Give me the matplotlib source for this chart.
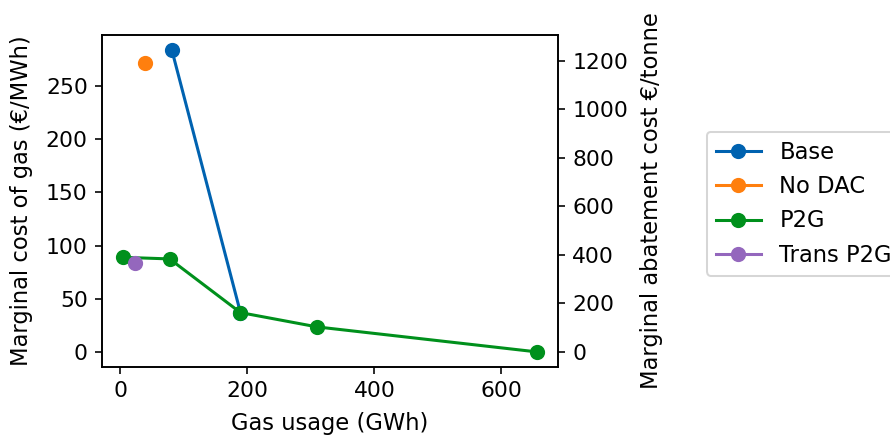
import matplotlib
matplotlib.use("Agg")
import matplotlib.pyplot as plt

# Data (Gas usage GWh, marginal cost of gas €/MWh)
base_x = [81, 189]
base_y = [284, 37]
nodac_x = [38]
nodac_y = [271.5]
p2g_x = [4, 77.5, 189, 310, 656]
p2g_y = [89, 87.5, 37, 23.5, 0]
trans_x = [22.5]
trans_y = [84]

# conversion of €/MWh gas to €/tonne abatement (right axis)
ratio = 4.377

labels = ["Base", "No DAC", "P2G", "Trans P2G"]
colors = ["#0062b0", "#ff7f0e", "#00901c", "#9467bd"]

plt.rcParams["font.size"] = 11.2
plt.rcParams["xtick.labelsize"] = 10.8
plt.rcParams["ytick.labelsize"] = 10.8

W, H = 890, 435
dpi = 146
fig = plt.figure(figsize=(W / dpi, H / dpi), dpi=dpi)
fig.subplots_adjust(left=102 / W, right=558 / W, top=1 - 35 / H, bottom=1 - 367 / H)
ax = fig.add_subplot(111)

series = [(base_x, base_y), (nodac_x, nodac_y), (p2g_x, p2g_y), (trans_x, trans_y)]
handles = []
for (xs, ys), lab, col in zip(series, labels, colors):
    h, = ax.plot(xs, ys, marker="o", color=col, label=lab, lw=1.5, ms=6.5)
    handles.append(h)

ax.set_xlabel("Gas usage (GWh)", labelpad=5.5)
ax.set_ylabel("Marginal cost of gas (€/MWh)", labelpad=6.5)
ax.set_xticks([0, 200, 400, 600])
ax.set_yticks([0, 50, 100, 150, 200, 250])
ax.set_xlim(-29, 689)

ylo, yhi = ax.get_ylim()
ax2 = ax.twinx()
ax2.set_ylim(ylo * ratio, yhi * ratio)
ax2.set_yticks([0, 200, 400, 600, 800, 1000, 1200])
ax2.set_ylabel("Marginal abatement cost €/tonne", labelpad=6)

fig.legend(handles=handles, labels=labels, loc="upper left", borderaxespad=0,
           bbox_to_anchor=(706.7 / W, 1 - 131.7 / H), bbox_transform=fig.transFigure)

fig.savefig("out.png", dpi=dpi)
